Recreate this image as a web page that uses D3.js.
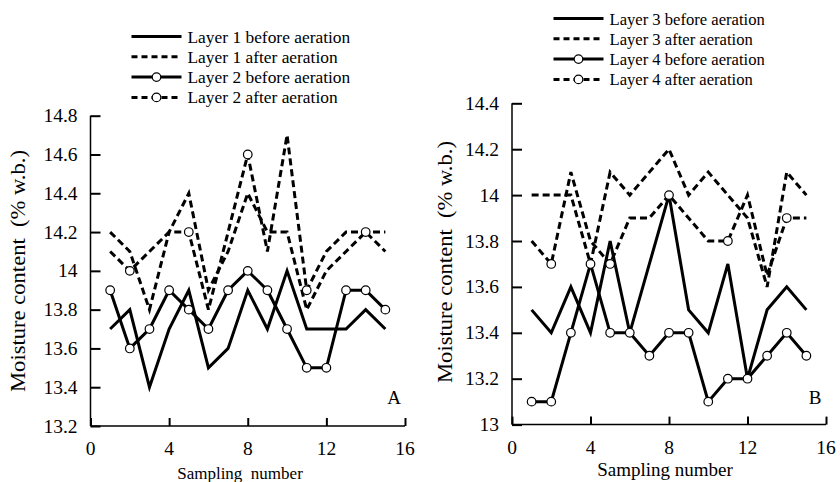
<!DOCTYPE html>
<html><head><meta charset="utf-8">
<script src="https://cdn.jsdelivr.net/npm/d3@7/dist/d3.min.js"></script>
<style>
html,body{margin:0;padding:0;background:#fff;}
svg{display:block;font-family:"Liberation Serif","Times New Roman",serif;}
text{fill:#000;white-space:pre;}
</style></head>
<body><svg id="c" width="840" height="482"></svg>
<script>
const samples = [1,2,3,4,5,6,7,8,9,10,11,12,13,14,15];
const xTicks = [0,4,8,12,16];
const yTicksA = [13.2,13.4,13.6,13.8,14,14.2,14.4,14.6,14.8];
const yTicksB = [13,13.2,13.4,13.6,13.8,14,14.2,14.4];
const markerSamplesAfter = [2,5,8,11,14];

const layer1Before = [13.7,13.8,13.4,13.7,13.9,13.5,13.6,13.9,13.7,14.0,13.7,13.7,13.7,13.8,13.7];
const layer1After  = [14.2,14.1,13.8,14.2,14.4,13.9,14.1,14.4,14.2,14.2,13.8,14.0,14.1,14.2,14.1];
const layer2Before = [13.9,13.6,13.7,13.9,13.8,13.7,13.9,14.0,13.9,13.7,13.5,13.5,13.9,13.9,13.8];
const layer2After  = [14.1,14.0,14.1,14.2,14.2,13.8,14.2,14.6,14.1,14.7,13.9,14.1,14.2,14.2,14.2];

const layer3Before = [13.5,13.4,13.6,13.4,13.8,13.4,13.7,14.0,13.5,13.4,13.7,13.2,13.5,13.6,13.5];
const layer3After  = [14.0,14.0,14.0,13.7,14.1,14.0,14.1,14.2,14.0,14.1,14.0,13.9,13.6,14.1,14.0];
const layer4Before = [13.1,13.1,13.4,13.7,13.4,13.4,13.3,13.4,13.4,13.1,13.2,13.2,13.3,13.4,13.3];
const layer4After  = [13.8,13.7,14.1,13.8,13.7,13.9,13.9,14.0,13.9,13.8,13.8,14.0,13.65,13.9,13.9];

const legendA = ["Layer 1 before aeration","Layer 1 after aeration","Layer 2 before aeration","Layer 2 after aeration"];
const legendB = ["Layer 3 before aeration","Layer 3 after aeration","Layer 4 before aeration","Layer 4 after aeration"];

const svg = d3.select("#c");

function panel(cfg){
  const g = svg.append("g");
  const x = d3.scaleLinear().domain([0,16]).range(cfg.xr);
  const y = d3.scaleLinear().domain(cfg.yd).range(cfg.yr);

  // axes
  const ya = g.append("g").attr("transform",`translate(${cfg.xr[0]},0)`)
    .call(d3.axisRight(y).tickValues(cfg.yTicks).tickSize(10).tickFormat(d3.format("")));
  ya.select(".domain").attr("d",`M0,${cfg.yr[0]}V${cfg.yr[1]}`);
  ya.selectAll("line").attr("stroke","#000").attr("stroke-width",2);
  ya.select(".domain").attr("stroke","#000").attr("stroke-width",1.5);
  ya.selectAll("text").remove();
  g.selectAll(".ytl").data(cfg.yTicks).enter().append("text")
    .attr("x",cfg.xr[0]-13).attr("y",d=>y(d)+6.5).attr("text-anchor","end")
    .attr("font-size",cfg.tickFs).text(d=>d3.format("")(d));

  const xa = g.append("g").attr("transform",`translate(0,${cfg.yr[0]})`)
    .call(d3.axisTop(x).tickValues(xTicks).tickSize(8));
  xa.select(".domain").attr("d",`M${cfg.xr[0]},0H${cfg.xr[1]}`).attr("stroke","#000").attr("stroke-width",1.5);
  xa.selectAll("line").attr("stroke","#000").attr("stroke-width",2);
  xa.selectAll("text").remove();
  g.selectAll(".xtl").data(xTicks).enter().append("text")
    .attr("x",d=>x(d)).attr("y",cfg.yr[0]+29).attr("text-anchor","middle")
    .attr("font-size",cfg.tickFs).text(d=>d);

  // titles
  g.append("text").attr("transform",`translate(${cfg.ytx},${cfg.yty}) rotate(-90)`)
    .attr("text-anchor","middle").attr("font-size",20)
    .attr("textLength",242).attr("lengthAdjust","spacingAndGlyphs")
    .text("Moisture content  (% w.b.)");
  g.append("text").attr("x",cfg.xtx).attr("y",cfg.xty).attr("text-anchor","middle")
    .attr("font-size",cfg.xtFs).text(cfg.xtitle);
  g.append("text").attr("x",cfg.lx).attr("y",cfg.ly).attr("text-anchor","middle")
    .attr("font-size",19).text(cfg.letter);

  const line = d3.line().x((d,i)=>x(samples[i])).y(d=>y(d));
  const series = cfg.series;
  series.forEach(s=>{
    g.append("path").attr("d",line(s.values)).attr("fill","none").attr("stroke","#000")
      .attr("stroke-width",3).attr("stroke-dasharray",s.dash?"7,4":null)
      .attr("stroke-linejoin","miter");
  });
  series.forEach(s=>{
    if(!s.marker) return;
    const idx = s.marker==="all" ? samples : markerSamplesAfter;
    g.selectAll(null).data(idx).enter().append("circle")
      .attr("cx",d=>x(d)).attr("cy",d=>y(s.values[samples.indexOf(d)])).attr("r",4.3)
      .attr("fill","#fff").attr("stroke","#000").attr("stroke-width",1.2);
  });

  // legend
  cfg.legend.forEach((lab,i)=>{
    const s = series[i];
    const yy = cfg.legY + i*20.3;
    g.append("line").attr("x1",cfg.legX).attr("x2",cfg.legX+50).attr("y1",yy).attr("y2",yy)
      .attr("stroke","#000").attr("stroke-width",3).attr("stroke-dasharray",s.dash?"6,4":null);
    if(s.marker){
      g.append("circle").attr("cx",cfg.legX+25).attr("cy",yy).attr("r",4.3)
        .attr("fill","#fff").attr("stroke","#000").attr("stroke-width",1.2);
    }
    g.append("text").attr("x",cfg.legX+56).attr("y",yy+6).attr("font-size",cfg.legFs).text(lab);
  });
}

panel({
  xr:[90.5,405], yd:[13.2,14.8], yr:[426,115.7], yTicks:yTicksA, tickFs:19.5,
  ytx:25, yty:271, xtx:240, xty:479, xtitle:"Sampling  number", xtFs:17,
  lx:394, ly:404, letter:"A",
  legX:131.5, legY:36.5, legFs:17.4,
  legend:legendA,
  series:[
    {values:layer1Before, dash:false, marker:null},
    {values:layer1After, dash:true, marker:null},
    {values:layer2Before, dash:false, marker:"all"},
    {values:layer2After, dash:true, marker:"some"}
  ]
});
panel({
  xr:[512,826], yd:[13,14.4], yr:[424.6,103.3], yTicks:yTicksB, tickFs:19.5,
  ytx:452, yty:262, xtx:665, xty:476, xtitle:"Sampling number", xtFs:19,
  lx:815, ly:404, letter:"B",
  legX:553.5, legY:18.5, legFs:16.6,
  legend:legendB,
  series:[
    {values:layer3Before, dash:false, marker:null},
    {values:layer3After, dash:true, marker:null},
    {values:layer4Before, dash:false, marker:"all"},
    {values:layer4After, dash:true, marker:"some"}
  ]
});
</script></body></html>
